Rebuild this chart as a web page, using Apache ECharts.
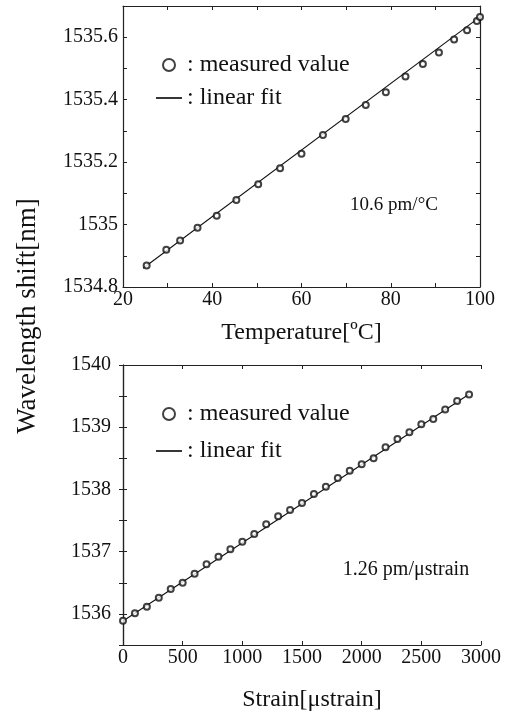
<!DOCTYPE html>
<html lang="en">
<head>
    <meta charset="UTF-8">
    <title>FBG wavelength shift</title>
    <script src="https://cdn.jsdelivr.net/npm/echarts@6/dist/echarts.min.js"></script>
    <style>
        html, body { margin: 0; padding: 0; background: #fff; }
    </style>
</head>
<body>
<div id='box' style="width: 514px;height:715px;"></div>
<script>
    // temperature panel
    var tempX = [25.3, 29.7, 32.8, 36.7, 41.0, 45.4, 50.3, 55.2, 60.0, 64.8, 69.9, 74.4, 78.9, 83.3, 87.2, 90.8, 94.2, 97.1, 99.3, 100.0];
    var tempY = [1534.869, 1534.919, 1534.949, 1534.990, 1535.028, 1535.079, 1535.129, 1535.180, 1535.227, 1535.287,
        1535.338, 1535.383, 1535.424, 1535.474, 1535.514, 1535.551, 1535.593, 1535.622, 1535.652, 1535.665];
    var tempFitX = [24.5, 100];
    var tempFitY = [1534.860, 1535.665];

    // strain panel
    var strainX = [0, 100, 200, 300, 400, 500, 600, 700, 800, 900, 1000, 1100, 1200, 1300, 1400,
        1500, 1600, 1700, 1800, 1900, 2000, 2100, 2200, 2300, 2400, 2500, 2600, 2700, 2800, 2900];
    var strainY = [1535.891, 1536.010, 1536.116, 1536.260, 1536.400, 1536.502, 1536.646, 1536.797, 1536.920, 1537.039,
        1537.161, 1537.285, 1537.441, 1537.569, 1537.670, 1537.783, 1537.928, 1538.045, 1538.185, 1538.302,
        1538.405, 1538.502, 1538.679, 1538.812, 1538.920, 1539.048, 1539.133, 1539.283, 1539.423, 1539.524];
    var strainFitX = [0, 2900];
    var strainFitY = [1535.885, 1539.530];

    var measName = ': measured value';
    var fitName = ': linear fit';
    var serif = 'Liberation Serif';

    function pairs(xs, ys) {
        return xs.map(function (x, i) { return [x, ys[i]]; });
    }

    var lab = { fontFamily: serif, fontSize: 20, color: '#111' };
    var axLine = { show: true, lineStyle: { color: '#222', width: 1.2 } };
    var tick = { show: true, inside: true, length: 4, lineStyle: { color: '#222' } };

    function sideAxis(base) {
        // mirror axis on the opposite side: box + inner ticks, no labels
        return Object.assign({}, base, {
            axisLabel: { show: false },
            name: '',
            axisLine: axLine,
            axisTick: tick,
            splitLine: { show: false }
        });
    }

    var x1 = {
        type: 'value', gridIndex: 0, min: 20, max: 100, interval: 10,
        axisLine: axLine, axisTick: tick, splitLine: { show: false },
        axisLabel: Object.assign({ margin: 3, formatter: function (v) { return v % 20 === 0 ? String(v) : ''; } }, lab),
        name: 'Temperature[\u00BAC]', nameLocation: 'middle', nameGap: 34,
        nameTextStyle: { fontFamily: serif, fontSize: 24, color: '#111' }
    };
    var y1 = {
        type: 'value', gridIndex: 0, min: 1534.8, max: 1535.7, interval: 0.1,
        axisLine: axLine, axisTick: tick, splitLine: { show: false },
        axisLabel: Object.assign({
            margin: 5, showMaxLabel: false,
            formatter: function (v) { var k = Math.round(v * 10); return k % 2 === 0 ? String(k / 10) : ''; }
        }, lab)
    };
    var x2 = {
        type: 'value', gridIndex: 1, min: 0, max: 3000, interval: 500,
        axisLine: axLine, axisTick: tick, splitLine: { show: false },
        axisLabel: Object.assign({ margin: 3, formatter: function (v) { return String(v); } }, lab),
        name: 'Strain[\u03BCstrain]', nameLocation: 'middle', nameGap: 43,
        nameTextStyle: { fontFamily: serif, fontSize: 24, color: '#111', padding: [0, 0, 0, 20] }
    };
    var y2 = {
        type: 'value', gridIndex: 1, min: 1535.5, max: 1540, interval: 0.5,
        axisLine: axLine, axisTick: tick, splitLine: { show: false },
        axisLabel: Object.assign({
            margin: 12,
            formatter: function (v) { return Number.isInteger(v) ? String(v) : ''; }
        }, lab)
    };

    var legendBase = {
        orient: 'vertical', left: 151, itemWidth: 26, itemHeight: 12,
        selectedMode: false,
        textStyle: { fontFamily: serif, fontSize: 24, color: '#111', lineHeight: 24 },
        data: [measName, { name: fitName, icon: 'path://M0,0H20V1.3H0Z' }]
    };

    function scatter(xi, yi, data) {
        return {
            name: measName, type: 'scatter', xAxisIndex: xi, yAxisIndex: yi,
            symbol: 'emptyCircle', symbolSize: 6,
            itemStyle: { color: '#111', borderColor: '#111', borderWidth: 1.2 },
            data: data, z: 3
        };
    }
    function fit(xi, yi, data) {
        return {
            name: fitName, type: 'line', xAxisIndex: xi, yAxisIndex: yi,
            symbol: 'none', showSymbol: false,
            itemStyle: { color: '#111' },
            lineStyle: { color: '#111', width: 1.1 },
            data: data, z: 2
        };
    }

    var myChart = echarts.init(document.getElementById('box'));
    var option = {
        animation: false,
        grid: [
            { left: 123, top: 6, width: 357, height: 281 },
            { left: 123, top: 365, width: 358, height: 280 }
        ],
        xAxis: [x1, sideAxis(Object.assign({}, x1, { position: 'top' })),
            x2, sideAxis(Object.assign({}, x2, { position: 'top' }))],
        yAxis: [y1, sideAxis(Object.assign({}, y1, { position: 'right' })),
            y2, sideAxis(Object.assign({}, y2, { position: 'right' }))],
        legend: [
            Object.assign({}, legendBase, { top: 48, itemGap: 9 }),
            Object.assign({}, legendBase, { top: 397, itemGap: 13 })
        ],
        graphic: [
            {
                type: 'text', x: 28, y: 316, rotation: Math.PI / 2,
                style: { text: 'Wavelength shift[nm]', font: '27px "Liberation Serif"', fill: '#111', textAlign: 'center', textVerticalAlign: 'middle' }
            },
            {
                type: 'text', x: 394, y: 205,
                style: { text: '10.6 pm/\u00B0C', font: '19px "Liberation Serif"', fill: '#111', textAlign: 'center', textVerticalAlign: 'middle' }
            },
            {
                type: 'text', x: 406, y: 570,
                style: { text: '1.26 pm/\u03BCstrain', font: '20px "Liberation Serif"', fill: '#111', textAlign: 'center', textVerticalAlign: 'middle' }
            }
        ],
        series: [
            fit(0, 0, pairs(tempFitX, tempFitY)),
            scatter(0, 0, pairs(tempX, tempY)),
            fit(2, 2, pairs(strainFitX, strainFitY)),
            scatter(2, 2, pairs(strainX, strainY))
        ]
    };
    myChart.setOption(option);
</script>
</body>
</html>
